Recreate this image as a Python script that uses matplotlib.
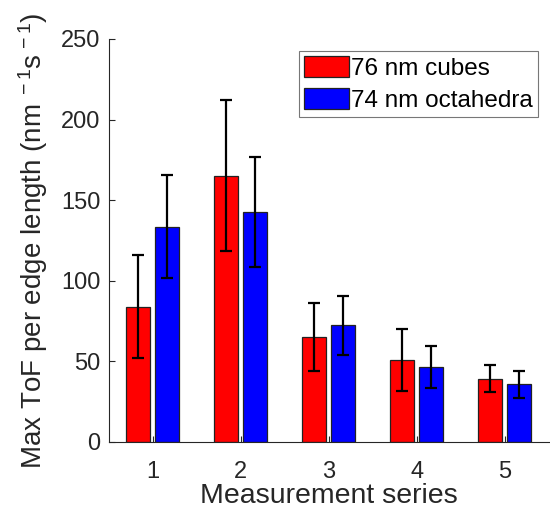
import matplotlib
matplotlib.use("Agg")
import matplotlib.pyplot as plt
import numpy as np

plt.rcParams['font.family'] = ['Liberation Sans', 'DejaVu Sans']
plt.rcParams['mathtext.fontset'] = 'custom'
plt.rcParams['mathtext.rm'] = 'Liberation Sans'
plt.rcParams['mathtext.it'] = 'Liberation Sans:italic'

series = [1, 2, 3, 4, 5]
cubes = [83.8, 165.1, 65.0, 50.7, 39.1]
cubes_err = [32.0, 47.0, 21.0, 19.3, 8.5]
octa = [133.5, 142.8, 72.3, 46.2, 35.8]
octa_err = [32.0, 34.2, 18.4, 13.0, 8.4]
labels = ['76 nm cubes', '74 nm octahedra']
yticks = [0, 50, 100, 150, 200, 250]

fig = plt.figure(figsize=(5.5, 5.17), dpi=100)
ax = fig.add_axes([0.1976, 0.1456, 0.80, 0.779])

x = np.array(series, dtype=float)
w = 0.272
off = 0.166
ek = dict(ecolor='black', elinewidth=1.6, capsize=4, capthick=1.6)
ax.bar(x - off, cubes, w, yerr=cubes_err, color=(1, 0, 0), edgecolor='#222222',
       linewidth=0.9, error_kw=ek, label=labels[0])
ax.bar(x + off, octa, w, yerr=octa_err, color=(0, 0, 1), edgecolor='#222222',
       linewidth=0.9, error_kw=ek, label=labels[1])

ax.set_xlim(0.5, 5.5)
ax.set_ylim(0, 250)
ax.set_xticks(series)
ax.set_yticks(yticks)
ax.tick_params(direction='in', length=4.5, width=0.8, colors='#262626',
               labelsize=17, labelcolor='#262626')
ax.tick_params(axis='x', pad=14)
ax.tick_params(axis='y', pad=6)
for s in ['top', 'right']:
    ax.spines[s].set_visible(False)
for s in ['left', 'bottom']:
    ax.spines[s].set_color('#262626')
    ax.spines[s].set_linewidth(0.8)

ax.set_xlabel('Measurement series', fontsize=20.5, color='#262626', labelpad=0)
ax.set_ylabel(r'Max ToF per edge length (nm$^{\ -1}$s$^{\,-1}$)', fontsize=20,
              color='#262626', labelpad=8)

leg = ax.legend(loc='upper right', bbox_to_anchor=(0.9757, 0.970), fontsize=17.5,
                frameon=True, fancybox=False, edgecolor='#555555',
                handlelength=1.85, handleheight=0.95, handletextpad=0.08,
                borderpad=0.22, labelspacing=0.32, borderaxespad=0)
leg.get_frame().set_linewidth(0.8)

fig.savefig('out.png', dpi=100)
